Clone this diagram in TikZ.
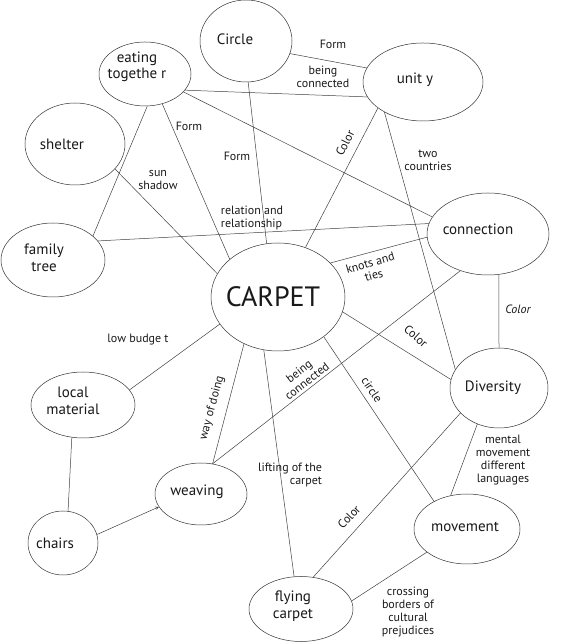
\documentclass[tikz,border=0pt]{standalone}
\usepackage{fontspec}
\setmainfont{PT Sans}
\usetikzlibrary{shapes.geometric}

\tikzset{
	idea/.style={draw=black!80, fill=white, ellipse, inner sep=0pt, line width=0.5pt},
	ideatext/.style={inner sep=0pt, align=center, text=black!90, font=\fontsize{15}{16.5}\selectfont},
	lbl/.style={inner sep=0pt, align=center, text=black!90, font=\fontsize{12}{13}\selectfont},
	link/.style={draw=black!75, line width=0.5pt}
}

\begin{document}
\begin{tikzpicture}[x=1pt, y=1pt]
	\useasboundingbox (0,0) rectangle (561,642);

	% concepts
	\node[idea, minimum width=92pt, minimum height=82pt, label={[ideatext, xshift=-11pt, yshift=2pt]center:Circle}] (circ) at (246,601) {};
	\node[idea, minimum width=92pt, minimum height=64pt, label={[ideatext, xshift=-8pt, yshift=7pt]center:{eating\\togethe r}}] (eat) at (145,568) {};
	\node[idea, minimum width=120pt, minimum height=78pt, label={[ideatext, xshift=-8pt, yshift=2pt]center:unit y}] (unity) at (423,560) {};
	\node[idea, minimum width=100pt, minimum height=82pt, label={[ideatext, xshift=-13pt]center:shelter}] (shelter) at (75,498) {};
	\node[idea, minimum width=104pt, minimum height=74pt, label={[ideatext, xshift=-9pt, yshift=2pt]center:{family\\tree}}] (family) at (53,382) {};
	\node[idea, minimum width=134pt, minimum height=108pt, label={[ideatext, xshift=-5pt, font=\fontsize{28}{30}\selectfont]center:CARPET}] (carpet) at (278,345) {};
	\node[idea, minimum width=122pt, minimum height=82pt, label={[ideatext, xshift=-10pt, yshift=5pt]center:connection}] (connection) at (488,408) {};
	\node[idea, minimum width=98pt, minimum height=80pt, label={[ideatext, xshift=-6pt]center:Diversity}] (diversity) at (499,254) {};
	\node[idea, minimum width=104pt, minimum height=66pt, label={[ideatext, xshift=-10pt, yshift=4pt]center:{local\\material}}] (local) at (83,237) {};
	\node[idea, minimum width=70pt, minimum height=64pt, label={[ideatext, xshift=-8pt]center:chairs}] (chairs) at (63,99) {};
	\node[idea, minimum width=92pt, minimum height=62pt, label={[ideatext, xshift=-4pt, yshift=2pt]center:weaving}] (weaving) at (201,148) {};
	\node[idea, minimum width=106pt, minimum height=70pt, label={[ideatext, xshift=-2pt, yshift=2pt]center:movement}] (movement) at (467,113) {};
	\node[idea, minimum width=104pt, minimum height=65pt, label={[ideatext, xshift=-8pt, yshift=3pt]center:{flying\\carpet}}] (flying) at (301,33) {};

	% links
	\foreach \a/\b in {circ.-16/unity.166, eat.-22/unity.195, eat.-25/connection.163, eat.-86/family.31,
			eat.-60/carpet.142, shelter.-32/carpet.159, circ.-87/carpet.102, unity.-150/carpet.61,
			unity.-142/diversity.157, family.23/connection.170, carpet.33/connection.183, carpet.-13/diversity.170,
			connection.-75/diversity.north, connection.-127/weaving.69, carpet.-126/weaving.69, carpet.-105/flying.102,
			carpet.-41/movement.140, diversity.-121/movement.116, diversity.-147/flying.69, movement.-150/flying.9,
			carpet.-155/local.18, local.-109/chairs.81}
		\draw[link] (\a) -- (\b);
	\draw[link, ->, >=stealth] (chairs.14) -- (weaving.-163);

	% link labels
	\node[lbl] (form1) at (333,598) {Form};
	\node[lbl] (being1) at (323,565) {being\\connected};
	\node[lbl] (form2) at (189,516) {Form};
	\node[lbl] (sun) at (158,462) {sun\\shadow};
	\node[lbl] (form3) at (237,486) {Form};
	\node[lbl, align=left] (relation) at (252,424) {relation and\\relationship};
	\node[lbl, rotate=63] (color1) at (345,499) {Color};
	\node[lbl] (countries) at (428,482) {two\\countries};
	\node[lbl, rotate=16] (knots) at (372,373) {knots and\\ties};
	\node[lbl, font=\fontsize{12}{13}\selectfont\itshape] (color2) at (518,333) {Color};
	\node[lbl, rotate=-42] (color3) at (416,306) {Color};
	\node[lbl, rotate=38] (being2) at (303,266) {being\\connected};
	\node[lbl, rotate=75] (way) at (212,234) {way of doing};
	\node[lbl, align=right] (lifting) at (290,167) {lifting of the\\carpet};
	\node[lbl, rotate=-56] (circle) at (372,252) {circle};
	\node[lbl] (mental) at (503,182) {mental\\movement\\different\\languages};
	\node[lbl, rotate=47] (color4) at (349,125) {Color};
	\node[lbl] (crossing) at (408,30) {crossing\\borders of\\cultural\\prejudices};
	\node[lbl] (budget) at (138,302) {low budge t};
\end{tikzpicture}
\end{document}
